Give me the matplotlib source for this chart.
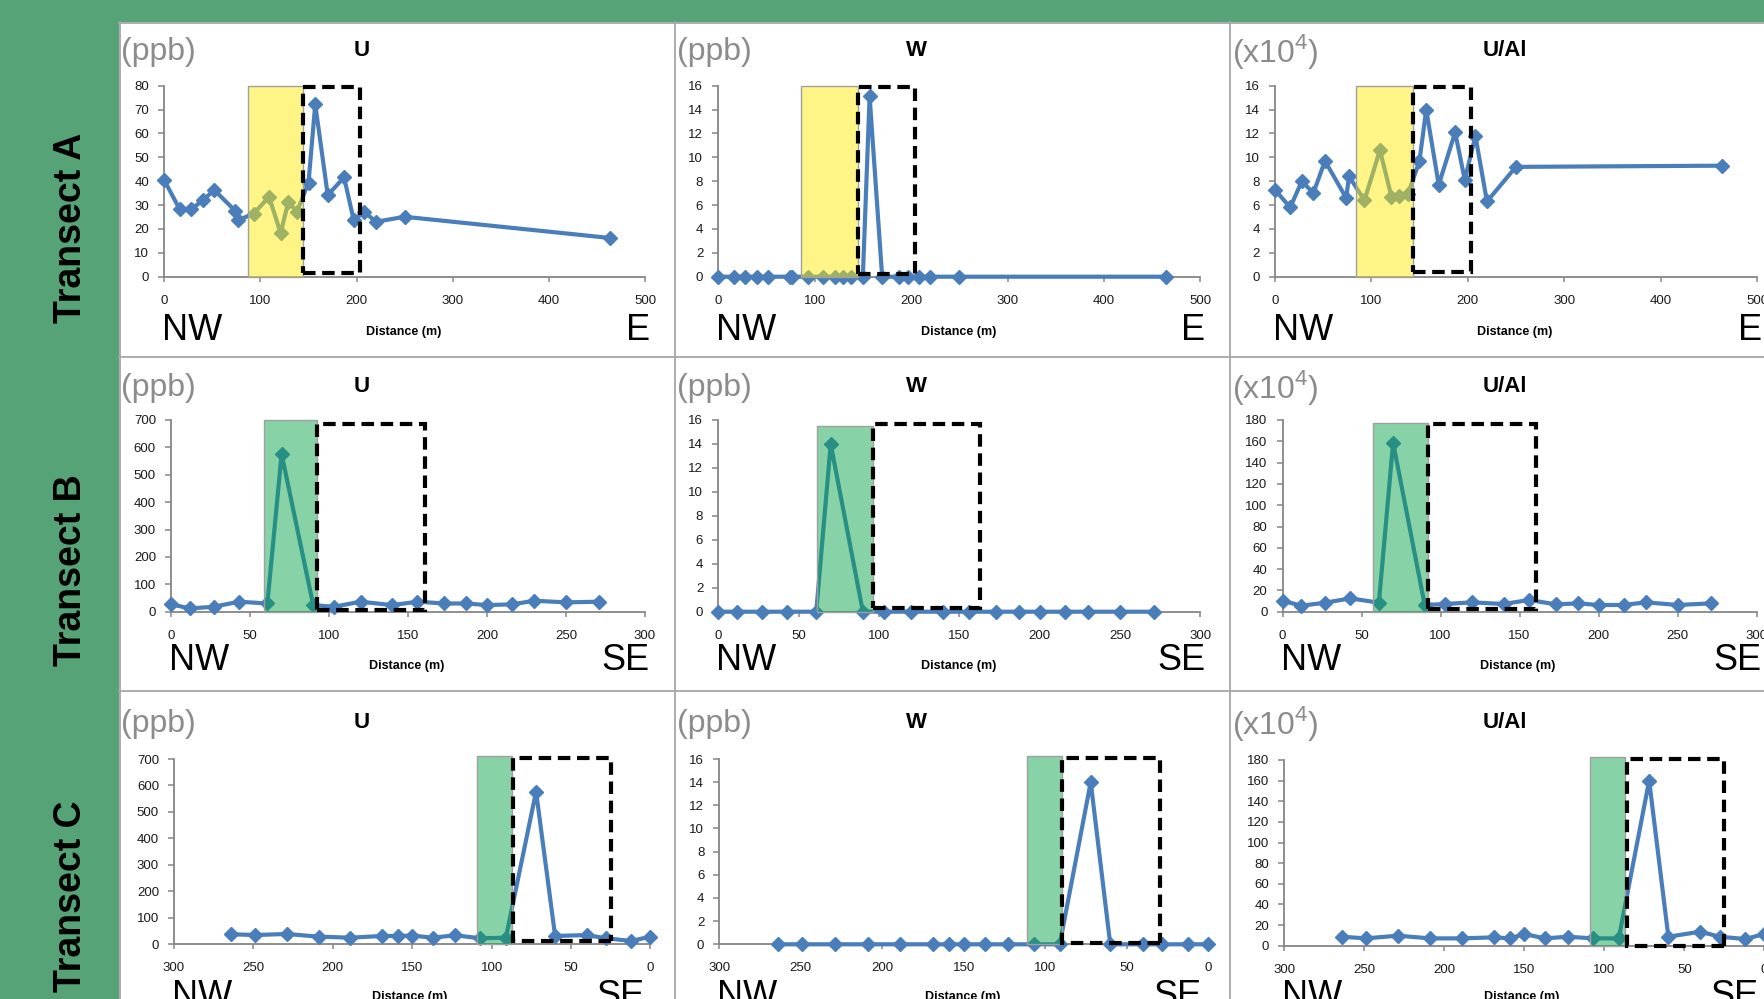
import numpy as np
import matplotlib
matplotlib.use("Agg")
import matplotlib.pyplot as plt
from matplotlib.patches import Rectangle
from matplotlib.lines import Line2D

plt.rcParams['font.family'] = ['Liberation Sans', 'DejaVu Sans']
plt.rcParams['mathtext.fontset'] = 'custom'
plt.rcParams['mathtext.rm'] = 'Liberation Sans'

### Data
dist_a = [0, 16, 28, 40, 52, 74, 77, 93, 109, 121, 129, 138, 150, 157, 170, 187, 197, 208, 220, 250, 464]
u_a = [40.4, 28.2, 28.2, 32, 36.3, 27.5, 23.7, 26.4, 33.5, 18.2, 31.4, 27.2, 39.4, 72.2, 34.2, 41.6, 23.7, 27.2, 23, 25.1, 16.2]
w_a = [0, 0, 0, 0, 0, 0, 0, 0, 0, 0, 0, 0, 0, 15.1, 0, 0, 0, 0, 0, 0, 0]
ual_a = [7.3, 5.8, 8.0, 7.0, 9.7, 6.6, 8.4, 6.4, 10.6, 6.7, 6.8, 6.9, 9.7, 14.0, 7.7, 12.1, 8.1, 11.8, 6.3, 9.2, 9.3]

dist_b = [0, 12, 27, 43, 61, 70, 90, 103, 120, 140, 156, 173, 187, 200, 216, 230, 250, 271]
u_b = [27, 12, 18, 36.5, 30, 576, 24, 18, 36.5, 24, 36.5, 30, 30, 24, 27, 40, 34, 36.5]
w_b = [0, 0, 0, 0, 0, 14.0, 0, 0, 0, 0, 0, 0, 0, 0, 0, 0, 0, 0]
ual_b = [10.3, 5.6, 8.5, 12.5, 8.5, 158.7, 6.3, 7.2, 8.8, 7.2, 11, 6.9, 7.8, 6.3, 6.3, 8.8, 6.3, 7.8]

dist_c = [264, 249, 229, 209, 189, 169, 159, 150, 137, 123, 107, 91, 72, 60, 40, 28, 12, 0]
u_c = [38, 35, 39, 29, 25, 31.5, 31.5, 33, 25, 34, 22.7, 25, 577, 31.5, 35, 22.7, 12.6, 29]
w_c = [0, 0, 0, 0, 0, 0, 0, 0, 0, 0, 0, 0, 14.0, 0, 0, 0, 0, 0]
ual_c = [8.7, 7.1, 9.7, 7.1, 7.1, 8.1, 7.1, 11.3, 7.1, 8.7, 7.1, 7.1, 160, 8.7, 13.6, 8.7, 6.5, 11.3]

# shaded zone (start, end, top) and dashed zone (start, end, bottom, top)
zone_a = [(87.3, 143.9, 80), (86, 145, 16), (84.5, 143, 16)]
dash_a = [(144, 203.3, 1.7, 79.3), (145, 204, 0.2, 15.9), (143, 203, 0.4, 15.9)]
zone_b = [(59, 92.7, 700), (61.4, 96.4, 15.5), (57.3, 92.3, 177)]
dash_b = [(92.7, 160.5, 8, 685), (96.4, 162.9, 0.3, 15.7), (92.3, 160.4, 3, 176)]
zone_c = [(86.9, 109.4, 712), (89.4, 111, 16.3), (86.8, 108.7, 183)]
dash_c = [(25, 86.3, 13, 705), (29.5, 89.4, 0.1, 16.1), (25.2, 86, 0, 181)]

titles = ["U", "W", "U/Al"]
units = ["(ppb)", "(ppb)", "(x10$^\\mathrm{4}$)"]
transects = ["Transect A", "Transect B", "Transect C"]
ends = [("NW", "E"), ("NW", "SE"), ("NW", "SE")]
ymax = [[80, 16, 16], [700, 16, 180], [700, 16, 180]]
ystep = [[10, 2, 2], [100, 2, 20], [100, 2, 20]]

BLUE = '#4A7EBB'
YELLOW = (1.0, 0.92, 0.0, 0.47)
GREEN = (0.0, 0.64, 0.27, 0.47)

W, H = 1764, 999
fig = plt.figure(figsize=(W / 100, H / 100), dpi=100)
fig.patch.set_facecolor('#55A376')


def fx(x):
    return x / W


def fy(y):
    return 1 - y / H


# white panel area + grey borders
fig.add_artist(Rectangle((fx(119), 0), 1, fy(22), transform=fig.transFigure,
                         facecolor='white', edgecolor='none', zorder=0))
for x in [119.5, 675, 1230]:
    fig.add_artist(Line2D([fx(x), fx(x)], [0, fy(22)], transform=fig.transFigure,
                          color='#A6A6A6', lw=1.3, zorder=0.5))
for y in [22.5, 357, 691]:
    fig.add_artist(Line2D([fx(119), 1], [fy(y), fy(y)], transform=fig.transFigure,
                          color='#A6A6A6', lw=1.3, zorder=0.5))

# axes boxes in pixels: (left, top, right, bottom)
boxes = [
    [(164.3, 85.7, 645, 276.7), (718.2, 85.7, 1200.4, 276.7), (1274.8, 85.7, 1757, 276.7)],
    [(171, 420, 645, 611.7), (718.2, 420, 1200.4, 611.7), (1282.5, 420, 1756.5, 611.7)],
    [(174, 759, 650.4, 944.3), (719.3, 759, 1208, 944.3), (1284.2, 760, 1764.4, 945.7)],
]
panel_left = [121, 677, 1232]
title_x = [361.6, 916.4, 1505]
title_y = [50.7, 386.7, 722.7]
dist_x = [[404, 959, 1515], [407, 959, 1518], [410, 963, 1522]]
dist_y = [331.7, 666, 997]
dir_y = [331, 660, 996]
right_off = [5, 5, -6]
transect_y = [228, 570, 896]

rows = [
    (dist_a, [u_a, w_a, ual_a], zone_a, dash_a, YELLOW, (0, 500, 100)),
    (dist_b, [u_b, w_b, ual_b], zone_b, dash_b, GREEN, (0, 300, 50)),
    (dist_c, [u_c, w_c, ual_c], zone_c, dash_c, GREEN, (300, 0, 50)),
]

for r, (dist, series, zones, dashes, zcol, xr) in enumerate(rows):
    fig.text(fx(71), fy(transect_y[r]), transects[r], rotation=90, ha='center', va='center',
             fontsize=27, fontweight='bold', color='black')
    for c in range(3):
        x0, y0, x1, y1 = boxes[r][c]
        ax = fig.add_axes([fx(x0), fy(y1), (x1 - x0) / W, (y1 - y0) / H])
        ax.set_facecolor('none')
        ax.plot(dist, series[c], color=BLUE, lw=3.0, marker='D', ms=7,
                zorder=3, clip_on=False)
        z0, z1, ztop = zones[c]
        ax.add_patch(Rectangle((z0, 0), z1 - z0, ztop, facecolor=zcol,
                               edgecolor='#A0A0A0', lw=1, zorder=4, clip_on=False))
        d0, d1, db, dt = dashes[c]
        ax.add_patch(Rectangle((d0, db), d1 - d0, dt - db, fill=False, edgecolor='black',
                               lw=3, linestyle=(0, (3, 1.6)), zorder=5, clip_on=False))
        ax.set_xlim(xr[0], xr[1])
        ax.set_xticks(np.arange(0, max(xr[0], xr[1]) + 1, xr[2]))
        ax.set_ylim(0, ymax[r][c])
        ax.set_yticks(np.arange(0, ymax[r][c] + 1, ystep[r][c]))
        for s in ['top', 'right']:
            ax.spines[s].set_visible(False)
        for s in ['left', 'bottom']:
            ax.spines[s].set_color('#868686')
            ax.spines[s].set_linewidth(1.3)
        ax.tick_params(axis='both', direction='out', color='#868686', width=1.1,
                       labelsize=9.5, labelcolor='#1a1a1a')
        ax.tick_params(axis='x', length=3.5, pad=9.5)
        ax.tick_params(axis='y', length=4.3, pad=6.5)

        fig.text(fx(panel_left[c]), fy(title_y[r] + 1), units[c], ha='left', va='center',
                 fontsize=23, color='#8C8C8C')
        fig.text(fx(title_x[c]), fy(title_y[r]), titles[c], ha='center', va='center',
                 fontsize=16, fontweight='bold')
        fig.text(fx(dist_x[r][c]), fy(dist_y[r]), "Distance (m)", ha='center', va='center',
                 fontsize=9, fontweight='bold')
        fig.text(fx(x0 - 2), fy(dir_y[r]), ends[r][0], ha='left', va='center', fontsize=26)
        fig.text(fx(x1 + right_off[r]), fy(dir_y[r]), ends[r][1], ha='right', va='center',
                 fontsize=26)

fig.savefig("out.png", dpi=100)
